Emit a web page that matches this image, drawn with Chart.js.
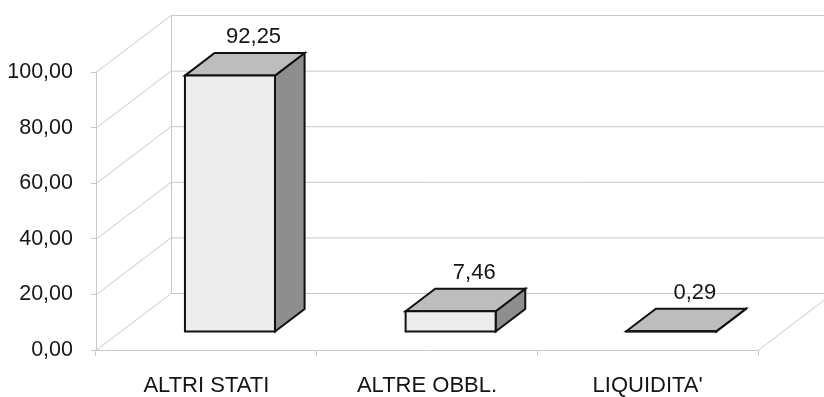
<!DOCTYPE html>
<html>
<head>
<meta charset="utf-8">
<script src="https://cdn.jsdelivr.net/npm/chart.js@4/dist/chart.umd.min.js"></script>
<style>
  html, body { margin: 0; padding: 0; background: #fff; }
  #wrap { width: 824px; height: 397px; }
</style>
</head>
<body>
<div id="wrap"><canvas id="chart"></canvas></div>
<script>
const categories = ['ALTRI STATI', 'ALTRE OBBL.', "LIQUIDITA'"];
const values = [92.25, 7.46, 0.29];
const yTicks = [0, 20, 40, 60, 80, 100];

const fmt = v => v.toFixed(2).replace('.', ',');

// depth of the 3D box (back wall offset) and where the bars sit inside it
const DX = 75, DY = -57;
const F1 = 0.315, F2 = 0.71;
const gridColor = '#c8c8c8';
const family = '"Liberation Sans", Arial, sans-serif';

const box3d = {
    id: 'box3d',
    beforeDatasetsDraw(chart) {
        const ctx = chart.ctx;
        const area = chart.chartArea;
        const y = chart.scales.y;
        ctx.save();
        ctx.lineWidth = 1;
        ctx.strokeStyle = gridColor;
        yTicks.forEach(v => {
            const py = y.getPixelForValue(v);
            // side wall diagonal
            ctx.beginPath();
            ctx.moveTo(area.left, py + 0.5);
            ctx.lineTo(area.left + DX, py + DY + 0.5);
            // back wall line
            ctx.lineTo(chart.width + 20, py + DY + 0.5);
            ctx.stroke();
        });
        // back wall left edge
        ctx.beginPath();
        ctx.moveTo(area.left + DX + 0.5, y.getPixelForValue(100) + DY);
        ctx.lineTo(area.left + DX + 0.5, y.getPixelForValue(0) + DY);
        // floor right edge
        ctx.moveTo(area.right, area.bottom + 0.5);
        ctx.lineTo(area.right + DX, area.bottom + DY + 0.5);
        ctx.stroke();
        ctx.restore();
    },
    afterDatasetsDraw(chart) {
        const ctx = chart.ctx;
        const meta = chart.getDatasetMeta(0);
        const ax = DX * F1, ay = DY * F1, bx = DX * F2, by = DY * F2;
        ctx.save();
        ctx.lineWidth = 2;
        ctx.lineJoin = 'miter';
        ctx.strokeStyle = '#111';
        meta.data.forEach((bar, i) => {
            const x0 = bar.x - bar.width / 2, x1 = bar.x + bar.width / 2;
            const yt = bar.y, yb = bar.base;
            // side face
            ctx.beginPath();
            ctx.moveTo(x1 + ax, yt + ay);
            ctx.lineTo(x1 + bx, yt + by);
            ctx.lineTo(x1 + bx, yb + by);
            ctx.lineTo(x1 + ax, yb + ay);
            ctx.closePath();
            ctx.fillStyle = '#8e8e8e';
            ctx.fill();
            ctx.stroke();
            // top face
            ctx.beginPath();
            ctx.moveTo(x0 + ax, yt + ay);
            ctx.lineTo(x0 + bx, yt + by);
            ctx.lineTo(x1 + bx, yt + by);
            ctx.lineTo(x1 + ax, yt + ay);
            ctx.closePath();
            ctx.fillStyle = '#bdbdbd';
            ctx.fill();
            ctx.stroke();
            // front face
            ctx.beginPath();
            ctx.rect(x0 + ax, yt + ay, bar.width, yb - yt);
            ctx.fillStyle = '#ececec';
            ctx.fill();
            ctx.stroke();
            // value label
            ctx.fillStyle = '#151515';
            ctx.font = '22px ' + family;
            ctx.textAlign = 'center';
            ctx.textBaseline = 'middle';
            ctx.fillText(fmt(values[i]), bar.x + DX * 0.63, yt + by - 16);
        });
        ctx.restore();
    }
};

new Chart(document.getElementById('chart'), {
    type: 'bar',
    data: {
        labels: categories,
        datasets: [{
            data: values,
            backgroundColor: 'rgba(0,0,0,0)',
            borderWidth: 0,
            categoryPercentage: 1,
            barPercentage: 0.408
        }]
    },
    options: {
        responsive: true,
        maintainAspectRatio: false,
        animation: false,
        layout: { padding: { top: 72, right: 66, bottom: 0, left: 0 } },
        plugins: { legend: { display: false }, tooltip: { enabled: false } },
        scales: {
            x: {
                afterFit: s => { s.height = 47; },
                grid: { display: true, drawOnChartArea: false, color: gridColor, tickLength: 6 },
                border: { color: gridColor },
                ticks: { color: '#151515', font: { family: family, size: 22 }, padding: 17, maxRotation: 0 }
            },
            y: {
                min: 0,
                max: 100,
                afterFit: s => { s.width = 96; },
                afterBuildTicks: s => { s.ticks = yTicks.map(v => ({ value: v })); },
                grid: { display: true, drawOnChartArea: false, color: gridColor, tickLength: 5 },
                border: { color: gridColor },
                ticks: {
                    color: '#151515',
                    font: { family: family, size: 21.5 },
                    padding: 18,
                    callback: v => fmt(v)
                }
            }
        }
    },
    plugins: [box3d]
});
</script>
</body>
</html>
